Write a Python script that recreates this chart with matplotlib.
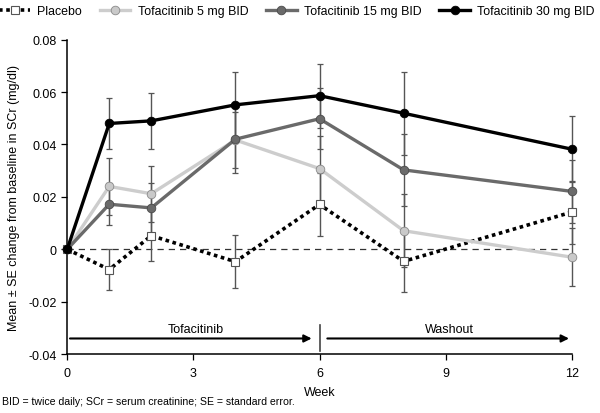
import numpy as np
import matplotlib.pyplot as plt

plt.rcParams['font.family'] = ['Liberation Sans', 'DejaVu Sans']

weeks = [0, 1, 2, 4, 6, 8, 12]

placebo = [0, -0.0077, 0.0052, -0.0047, 0.0171, -0.0046, 0.0142]
placebo_se = [0, 0.008, 0.0097, 0.010, 0.012, 0.0118, 0.012]

tofa5 = [0, 0.0240, 0.0212, 0.0417, 0.0308, 0.0071, -0.0030]
tofa5_se = [0, 0.011, 0.0107, 0.0105, 0.0124, 0.014, 0.011]

tofa15 = [0, 0.0172, 0.0158, 0.0420, 0.0498, 0.0303, 0.0221]
tofa15_se = [0, 0.008, 0.0095, 0.013, 0.0116, 0.0138, 0.012]

tofa30 = [0, 0.0480, 0.0490, 0.0551, 0.0586, 0.0519, 0.0382]
tofa30_se = [0, 0.0099, 0.0108, 0.0127, 0.0122, 0.0158, 0.0127]

series = [
    ("Placebo", placebo, placebo_se),
    ("Tofacitinib 5 mg BID", tofa5, tofa5_se),
    ("Tofacitinib 15 mg BID", tofa15, tofa15_se),
    ("Tofacitinib 30 mg BID", tofa30, tofa30_se),
]

styles = {
    "Placebo": dict(color="black", ls=(0, (1, 1)), lw=2.6, marker="s", ms=6,
                    mfc="white", mec="#555555", mew=0.8),
    "Tofacitinib 5 mg BID": dict(color="#cdcdcd", ls="-", lw=2.4, marker="o", ms=6.2,
                                 mfc="#c9c9c9", mec="#8a8a8a", mew=0.6),
    "Tofacitinib 15 mg BID": dict(color="#6a6a6a", ls="-", lw=2.4, marker="o", ms=6.2,
                                  mfc="#6a6a6a", mec="#4a4a4a", mew=0.6),
    "Tofacitinib 30 mg BID": dict(color="black", ls="-", lw=2.4, marker="o", ms=6.2,
                                  mfc="black", mec="black", mew=0.6),
}

fig = plt.figure(figsize=(6, 4.14), dpi=100)
ax = fig.add_axes([0.112, 0.142, 0.841, 0.760])

# zero reference line
ax.axhline(0, color="#333333", lw=0.9, ls=(0, (5, 4)), zorder=1)

names = [s[0] for s in series]
handles = {}
for name, vals, se in series:
    w = np.array(weeks[1:])
    v = np.array(vals[1:])
    e = np.array(se[1:])
    eb = ax.errorbar(w, v, yerr=e, fmt="none", ecolor="#555555", elinewidth=1.0,
                     capsize=2.5, capthick=0.9, zorder=2)
    for art in eb.lines[1] + eb.lines[2]:
        art.set_clip_on(False)
    for art in eb.lines[2]:
        art.set_clip_on(False)
for name, vals, se in series:
    z = 3 + names.index(name)
    ln, = ax.plot(weeks, vals, label=name, zorder=z, clip_on=False, **styles[name])
    handles[name] = ln

ax.set_xlim(0, 12)
ax.set_ylim(-0.04, 0.08)
ax.set_xticks([0, 3, 6, 9, 12])
ax.set_yticks([-0.04, -0.02, 0, 0.02, 0.04, 0.06, 0.08])
ax.set_yticklabels(["-0.04", "-0.02", "0", "0.02", "0.04", "0.06", "0.08"])
ax.tick_params(labelsize=9, length=4, width=0.9, colors="black")
ax.tick_params(axis="x", pad=5)
for s in ["top", "right"]:
    ax.spines[s].set_visible(False)
for s in ["left", "bottom"]:
    ax.spines[s].set_linewidth(1.1)

ax.set_xlabel("Week", fontsize=9, labelpad=5)
ax.set_ylabel("Mean \u00b1 SE change from baseline in SCr (mg/dl)", fontsize=9, labelpad=6)

# treatment period arrows
arrow_y = -0.034
ax.annotate("", xy=(5.88, arrow_y), xytext=(0, arrow_y),
            arrowprops=dict(arrowstyle="-|>", color="black", lw=1.5, mutation_scale=11))
ax.annotate("", xy=(12, arrow_y), xytext=(6.12, arrow_y),
            arrowprops=dict(arrowstyle="-|>", color="black", lw=1.5, mutation_scale=11))
ax.plot([6, 6], [-0.0389, -0.029], color="#444444", lw=1.2, clip_on=False)
ax.text(3.05, -0.0302, "Tofacitinib", ha="center", va="center", fontsize=9)
ax.text(9.1, -0.0302, "Washout", ha="center", va="center", fontsize=9)

fig.legend([handles[n] for n in names], names,
           loc="upper right", bbox_to_anchor=(1.01, 1.012), ncol=4, frameon=False,
           fontsize=8.9, handlelength=2.5, columnspacing=1.4, handletextpad=0.6)

fig.text(0.003, 0.018, "BID = twice daily; SCr = serum creatinine; SE = standard error.",
         fontsize=7.6, ha="left", va="bottom")

fig.savefig("out.png", dpi=100)
